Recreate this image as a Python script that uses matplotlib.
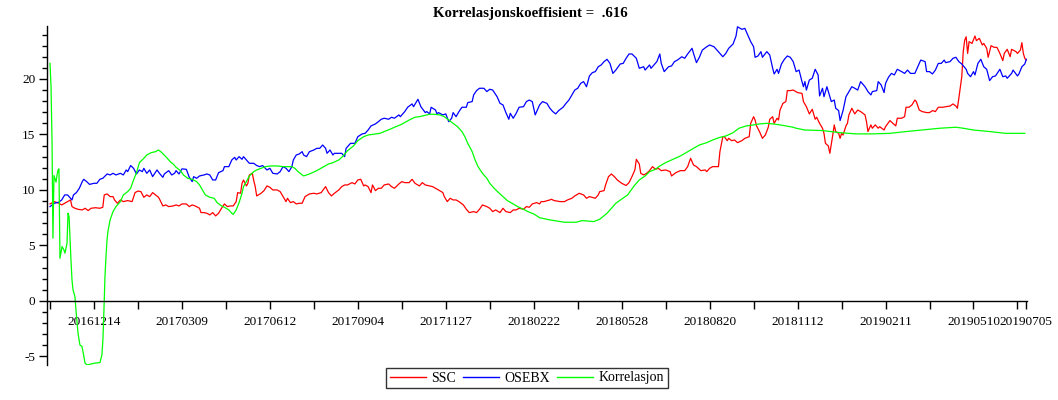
import matplotlib
matplotlib.use("Agg")
import matplotlib.pyplot as plt
from matplotlib.lines import Line2D

plt.rcParams['font.family'] = ['Liberation Serif', 'DejaVu Serif']
plt.rcParams['axes.unicode_minus'] = False

title = "Korrelasjonskoeffisient =  .616"
series_names = ["SSC", "OSEBX", "Korrelasjon"]

# x positions are trading-day indices (0 = first date)
label_days = [30, 90, 150, 210, 270, 330, 390, 450, 510, 570, 630, 666]
label_texts = ["20161214", "20170309", "20170612", "20170904", "20171127", "20180222",
               "20180528", "20180820", "20181112", "20190211", "20190510", "20190705"]
minor_days = [0, 60, 120, 180, 240, 300, 360, 420, 480, 540, 600, 660]
y_major = [-5, 0, 5, 10, 15, 20]

ssc_points = [
(0,8.74),(3,8.95),(6,8.8),(8,8.65),(10,8.8),(12,8.95),(14,9.1),(15,8.5),(17,8.35),(19,8.26),(22,8.2),(24,8.35),(26,8.14),(28,8.35),(31,8.4),(34,8.35),(36,8.44),(37,9.55),(39,9.64),(41,9.4),(43,9.4),(44,9.1),(46,8.8),(48,9.1),(50,8.95),(53,9.04),(56,8.95),(58,9.76),(60,9.9),(62,9.85),(64,9.34),(66,9.55),(68,9.4),(70,9.76),(72,9.55),(74,9.34),(75,9.1),(77,8.56),(79,8.65),(81,8.5),(84,8.56),(86,8.65),(88,8.56),(90,8.74),(93,8.74),(95,8.5),(97,8.65),(99,8.56),(102,8.35),(103,7.96),(105,7.96),(107,7.9),(109,7.75),(111,7.96),(113,7.66),(115,7.9),(117,8.35),(119,8.74),(121,8.5),(123,8.56),(125,8.56),(127,8.95),(128,9.76),(130,9.7),(131,10.6),(132,10.9),(134,10.36),(135,10.6),(136,11.35),(138,11.5),(139,10.84),(140,10.3),(141,9.46),(144,9.7),(146,9.94),(148,10.36),(150,10.24),(152,10.0),(155,10.0),(157,9.85),(159,9.4),(161,8.95),(162,9.25),(164,8.86),(166,8.95),(168,8.74),(170,8.8),
(172,8.8),(174,9.4),(177,9.64),(180,9.7),(182,9.64),(185,9.76),(186,9.94),(188,10.3),(190,9.76),(192,9.46),(194,9.7),(197,10.0),(199,10.3),(201,10.45),(203,10.45),(206,10.66),(208,10.54),(210,10.9),(212,10.96),(214,10.36),(215,10.45),(217,10.3),(219,9.76),(220,10.45),(222,9.94),(224,10.15),(226,10.15),(228,10.45),(231,10.54),(233,10.3),(235,10.15),(238,10.54),(240,10.75),(242,10.66),(245,10.66),(247,10.96),(249,10.6),(252,10.36),(254,10.66),(256,10.45),(259,10.36),(261,10.3),(263,10.15),(265,10.0),(268,9.76),(269,9.4),(271,8.95),(273,9.25),(275,9.1),(277,9.1),(279,8.95),(282,8.65),(284,8.26),(286,7.96),(289,8.05),(291,7.96),(293,8.26),(295,8.65),(298,8.5),(300,8.35),(302,8.05),(304,8.2),(307,7.96),(309,8.35),(311,8.05),(314,7.96),(316,8.2),(318,8.2),(320,8.35),(323,8.26),(325,8.5),(327,8.44),(329,8.74),(332,8.86),(334,8.74),(335,8.95),(337,8.95),(341,9.1),
(342,9.16),(344,9.04),(348,8.95),(351,8.95),(353,9.1),(356,9.25),(358,9.46),(361,9.7),(364,9.55),(366,9.25),(368,9.4),(372,9.25),(374,9.55),(375,9.85),(378,9.94),(379,10.45),(381,11.2),(383,11.44),(385,11.2),(387,10.9),(390,10.6),(393,10.4),(395,10.66),(397,11.2),(399,11.8),(400,12.76),(402,12.34),(403,11.5),(405,11.35),(407,11.5),(409,11.74),(411,12.1),(413,11.86),(415,11.95),(417,11.74),(420,11.8),(423,11.65),(424,11.26),(427,11.56),(430,11.74),(433,11.74),(435,12.1),(437,12.85),(439,12.25),(441,12.1),(443,11.86),(444,11.74),(447,11.8),(448,11.65),(450,11.95),(452,12.1),(456,12.1),(457,13.45),(459,14.8),(460,14.8),(462,14.44),(463,14.65),(465,14.44),(467,14.5),(469,14.26),(472,14.44),(474,14.65),(477,14.8),(478,16.0),(480,16.6),(481,16.3),(482,15.77),(484,15.26),(486,14.65),(488,14.95),(490,15.65),(491,16.37),(493,16.6),(494,16.0),(496,16.46),(497,16.3),(498,17.2),(500,17.8),(502,17.96),(503,18.95),
(505,18.95),(507,19.0),(510,18.77),(513,18.7),(514,17.96),(516,17.5),(518,16.85),(520,17.27),(522,16.37),(523,16.55),(525,16.0),(527,15.56),(528,15.1),(529,14.2),(531,13.96),(532,13.3),(534,14.95),(535,15.86),(536,15.26),(538,15.1),(539,14.65),(540,15.1),(541,14.95),(543,15.77),(544,16.0),(545,16.76),(547,17.36),(549,16.85),(551,17.2),(553,17.06),(556,16.76),(557,16.15),(558,15.26),(560,15.86),(561,15.56),(563,15.86),(565,15.56),(566,15.7),(569,15.4),(570,15.7),(573,16.25),(575,16.0),(577,15.77),(578,16.46),(581,16.46),(583,16.6),(584,17.45),(586,17.45),(588,17.66),(590,18.1),(591,17.96),(593,17.2),(595,17.06),(598,16.97),(600,16.97),(602,17.15),(604,17.06),(606,17.45),(609,17.45),(611,17.5),(614,17.56),(616,17.75),(618,17.56),(619,17.36),(620,18.26),(622,20.2),(623,22.46),(624,23.5),(625,23.8),(626,22.3),(627,23.36),(629,23.2),(631,23.87),(632,23.45),(634,23.66),(636,23.06),(637,23.2),(639,22.76),(640,21.95),(642,23.0),(644,22.85),(646,22.85),(648,22.3),(650,21.65),(651,22.3),(653,22.67),(655,22.0),(656,22.67),(659,22.46),(660,22.3),(662,22.6),(663,23.27),(664,22.3),(665,21.86),(666,21.7)]

osebx_points = [
(0,8.5),(3,8.8),(6,8.9),(8,9.1),(10,9.55),(12,9.55),(15,9.1),(16,9.55),(18,9.76),(20,10.15),(22,10.75),(23,10.96),(25,10.75),(27,10.5),(30,10.6),(32,10.6),(34,10.96),(36,11.05),(39,11.44),(41,11.35),(43,11.5),(45,11.35),(48,11.5),(50,11.35),(52,11.8),(53,11.65),(55,12.2),(57,11.95),(59,11.44),(61,11.8),(63,11.65),(64,11.95),(66,11.5),(68,11.8),(70,11.2),(73,11.8),(75,11.44),(77,11.14),(78,11.44),(81,11.74),(83,11.35),(85,11.5),(86,11.74),(88,11.44),(90,11.9),(93,11.86),(95,11.14),(97,10.75),(98,11.2),(100,11.05),(102,11.26),(105,11.35),(107,11.44),(109,11.35),(111,10.9),(113,10.9),(115,11.56),(118,11.74),(119,12.1),(122,12.1),(124,12.7),(126,12.94),(127,12.7),(129,13.0),(131,12.76),(132,13.0),(134,12.7),(136,12.4),(139,12.4),(141,12.2),(143,12.1),(145,12.2),(148,11.8),(150,11.95),(152,11.5),(155,11.44),(157,11.65),(159,12.1),(161,11.95),(163,11.65),(165,12.1),(166,12.7),(168,13.15),(170,13.24),
(172,13.45),(173,13.15),(175,13.0),(177,13.45),(180,13.6),(182,13.75),(184,13.75),(186,14.05),(188,13.75),(189,13.3),(191,13.6),(193,13.15),(194,13.3),(197,13.3),(199,13.3),(201,13.0),(202,13.75),(205,14.2),(208,14.2),(210,14.8),(213,15.05),(215,15.1),(217,15.4),(219,15.77),(222,15.95),(224,16.15),(226,16.37),(228,16.46),(231,16.37),(233,16.55),(235,16.46),(238,16.76),(239,16.6),(242,17.06),(244,17.45),(247,17.75),(248,17.5),(250,17.96),(251,18.17),(253,17.5),(256,16.97),(257,17.06),(259,16.85),(260,17.45),(263,17.2),(264,16.85),(265,16.97),(268,16.76),(270,16.85),(272,16.15),(274,16.46),(275,16.97),(277,16.6),(279,17.06),(281,17.45),(284,17.45),(285,17.87),(288,17.96),(289,18.56),(291,18.95),(293,19.16),(296,19.16),(298,18.86),(300,19.07),(302,19.0),(305,18.4),(307,17.8),(309,17.66),(311,16.97),(313,16.37),(314,16.9),(316,16.46),(318,16.9),(320,17.45),(323,17.5),(325,17.96),(327,18.1),(329,17.96),(331,16.76),(334,17.66),(336,17.96),(339,17.8),(341,17.36),
(343,17.06),(345,16.85),(347,17.15),(350,17.45),(352,17.8),(354,18.1),(356,18.56),(358,19.0),(360,19.16),(362,19.6),(364,19.76),(366,19.3),(368,20.27),(370,20.57),(372,20.66),(374,21.1),(376,21.26),(378,21.56),(380,21.77),(382,21.4),(384,20.5),(386,20.8),(389,21.35),(391,21.4),(393,21.86),(395,22.25),(397,22.25),(400,21.86),(402,20.96),(405,21.1),(406,20.8),(409,21.26),(410,20.96),(413,21.4),(414,21.56),(416,22.25),(417,21.4),(419,20.66),(422,21.1),(424,21.17),(426,21.56),(428,21.7),(431,22.0),(433,21.86),(435,22.25),(438,22.76),(439,22.3),(441,21.47),(443,21.95),(445,22.6),(448,22.9),(450,23.06),(453,22.9),(455,22.6),(457,22.3),(459,22.0),(461,22.3),(463,22.76),(466,23.15),(468,23.87),(469,24.7),(472,24.47),(474,24.56),(476,23.96),(478,23.36),(480,22.9),(481,21.95),(483,22.07),(485,22.46),(486,21.95),(489,22.46),(491,22.16),(493,20.96),(494,20.45),(496,20.87),(497,20.5),(499,21.35),(501,21.77),(503,22.07),
(505,21.95),(507,21.56),(509,20.66),(511,20.8),(513,19.76),(514,19.3),(515,19.76),(516,19.0),(518,19.9),(520,20.06),(522,20.87),(524,20.36),(525,18.47),(527,19.16),(528,18.4),(530,19.3),(531,18.86),(533,17.96),(535,18.1),(536,17.36),(538,17.15),(539,16.25),(541,17.15),(543,18.4),(545,18.86),(547,19.3),(549,19.16),(551,19.0),(553,19.76),(556,19.3),(558,18.86),(560,18.56),(561,18.86),(564,18.95),(565,19.76),(567,19.46),(569,18.77),(570,19.6),(572,20.15),(574,20.5),(576,20.36),(578,20.87),(581,20.66),(583,20.5),(585,20.8),(587,20.5),(590,20.5),(592,21.1),(594,21.7),(597,21.56),(598,20.66),(600,20.66),(602,20.45),(604,20.8),(606,21.4),(608,21.4),(610,21.7),(611,21.47),(614,21.56),(616,21.86),(618,21.95),(620,21.56),(622,21.35),(625,20.87),(626,20.5),(628,20.2),(630,20.66),(631,20.36),(633,21.4),(635,21.77),(637,21.1),(639,20.87),(641,19.85),(643,20.2),(645,20.27),(648,20.87),(650,20.2),(652,20.27),(653,20.06),(656,20.5),(657,20.8),(660,20.27),(661,20.45),(663,21.1),(665,21.35),(666,21.77)]

korr_points = [
(0,21.4),(0.7,19.3),(1.4,14.2),(2,5.65),(2.7,11.3),(4.1,10.7),(4.8,11.35),(5.5,11.8),(6.1,11.9),(6.8,3.84),(8.2,4.9),(9.5,4.6),(10.2,4.3),(11.6,5.2),(12.3,7.9),(13,7.6),(14.3,3.7),(15,1.9),(15.7,1.0),(17,0.4),(17.7,-0.8),(19.1,-2.9),(20.4,-3.96),(21.8,-4.1),(22.7,-4.7),(23.9,-5.6),(25.2,-5.77),(27.3,-5.7),(30.7,-5.6),(34.1,-5.55),(35.4,-4.86),(36.1,-3.5),(36.8,-0.8),(37.5,2.2),(38.2,4.0),(38.9,5.5),(39.5,6.25),(41,7.3),(43,8.05),(45,8.5),(48,8.95),(50,9.55),(53,9.85),(55,10.15),(57,10.9),(59,11.56),(61,12.46),(64,12.85),(66,13.15),(69,13.36),(72,13.45),(74,13.6),(76,13.4),(79,13.0),(82,12.55),(84,12.34),(86,12.04),(89,11.74),(91,11.35),(94,11.05),(97,10.96),(100,10.75),(102,10.45),(104,10.0),(106,9.55),(109,9.34),(112,9.25),(114,8.86),(117,8.56),(119,8.44),(122,8.2),(124,7.9),(125,7.8),(127,8.2),(129,8.86),(131,9.7),(132,10.3),(134,10.75),(136,11.26),(139,11.65),(141,11.8),(144,11.95),(147,12.1),(150,12.16),(155,12.16),(159,12.1),(165,12.1),(167,11.95),(170,11.56),(173,11.26),(177,11.44),(182,11.74),(186,12.04),(190,12.34),(193,12.46),(197,12.7),(200,13.06),(203,13.54),(207,13.96),(210,14.44),(214,14.8),(217,14.95),(222,15.05),(225,15.1),(228,15.26),(232,15.47),(235,15.65),(239,15.86),(242,16.07),(245,16.3),(249,16.55),(252,16.6),(256,16.73),(259,16.82),(262,16.82),(266,16.76),(269,16.6),(272,16.3),(275,16.0),(278,15.7),(281,15.26),(283,14.8),(285,14.2),(288,13.45),(290,12.7),(292,12.1),(295,11.5),(298,11.05),(300,10.6),(303,10.15),(306,9.76),(309,9.4),(312,9.04),(316,8.74),(319,8.5),(323,8.26),(326,8.05),(330,7.84),(334,7.5),(341,7.3),(351,7.09),(359,7.09),(363,7.24),(371,7.15),(375,7.36),(380,7.9),(386,8.8),(394,9.55),(399,10.45),(402,10.9),(406,11.26),(409,11.65),(413,11.86),(416,12.16),(420,12.46),(425,12.76),(430,13.06),(434,13.36),(439,13.75),(443,14.05),(448,14.26),(452,14.5),(457,14.74),(461,14.86),(466,15.16),(470,15.56),(475,15.77),(480,15.86),(484,15.95),(489,16.0),(493,15.95),(498,15.86),(502,15.77),(507,15.65),(509,15.56),(515,15.4),(527,15.35),(539,15.16),(550,15.05),(561,15.05),(573,15.1),(584,15.26),(595,15.4),(607,15.56),(618,15.65),(623,15.56),(630,15.4),(641,15.26),(652,15.1),(665,15.1)]

colors = ["#FF0000", "#0000FF", "#00FF00"]

fig = plt.figure(figsize=(10.58, 4.0), dpi=100)
ax = fig.add_axes([47/1058, 35/400, 980/1058, 339/400])

for pts, col, name in zip([ssc_points, osebx_points, korr_points], colors, series_names):
    xs = [p[0] for p in pts]
    ys = [p[1] for p in pts]
    ax.plot(xs, ys, color=col, lw=0.9, label=name)

ax.set_xlim(-2.05, 666.5)
ax.set_ylim(-5.77, 24.77)

for s in ['top', 'right']:
    ax.spines[s].set_visible(False)
ax.spines['bottom'].set_position(('data', 0))
ax.spines['bottom'].set_linewidth(1.0)
ax.spines['left'].set_linewidth(1.0)

ax.set_xticks(label_days)
ax.set_xticklabels(label_texts)
ax.set_xticks(minor_days, minor=True)
ax.tick_params(axis='x', which='both', direction='out', length=6, width=1.0,
               labelsize=9.5, pad=5)

ax.set_yticks(y_major)
ax.set_yticklabels([str(v) for v in y_major])
ax.set_yticks([v for v in range(-5, 25) if v not in y_major], minor=True)
ax.tick_params(axis='y', which='major', direction='out', length=6, width=1.0,
               labelsize=9.5, pad=2.5)
ax.tick_params(axis='y', which='minor', direction='out', length=3.5, width=1.0)

fig.text(530/1058, 1 - 14/400, title, ha='center', va='center',
         fontsize=10.7, fontweight='bold')

handles = [Line2D([0], [0], color=c, lw=1.0) for c in colors]
leg = fig.legend(handles, series_names, loc='center',
                 bbox_to_anchor=(527/1058, 1 - 378/400), ncol=3,
                 frameon=True, fancybox=False, edgecolor='black',
                 fontsize=10, handlelength=2.6, handletextpad=0.4,
                 columnspacing=0.5, borderpad=0.25, borderaxespad=0)
leg.get_frame().set_linewidth(1.0)

fig.savefig("out.png", dpi=100)
